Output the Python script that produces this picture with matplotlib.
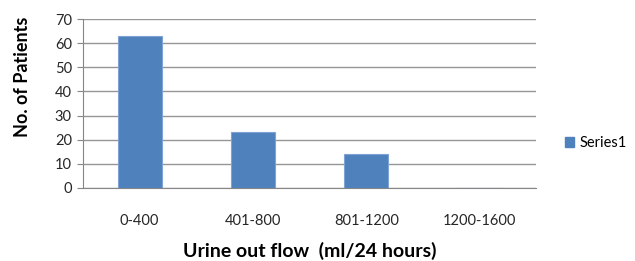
import matplotlib
matplotlib.use("Agg")
import matplotlib.pyplot as plt
from matplotlib.patches import Patch

categories = ["0-400", "401-800", "801-1200", "1200-1600"]
values = [63, 23, 14, 0]
series_name = "Series1"
yticks = [0, 10, 20, 30, 40, 50, 60, 70]

plt.rcParams['font.family'] = ['Lato', 'DejaVu Sans']

fig = plt.figure(figsize=(6.35, 2.61), dpi=100)
ax = fig.add_axes([0.1307, 0.2797, 0.8443 - 0.1307, 0.927 - 0.2797])

x = range(len(categories))
ax.bar(x, values, width=0.39, color="#4F81BD", edgecolor="#7FA3D4", linewidth=0.8, zorder=3)

ax.set_xlim(-0.5, len(categories) - 0.5)
ax.set_ylim(0, 70)
ax.set_yticks(yticks)
ax.set_xticks(list(x))
ax.set_xticklabels(categories, fontsize=10.5, color="#262626")
ax.tick_params(axis='x', length=0, pad=19)
ax.tick_params(axis='y', length=4, color="#868686", labelsize=10.5, labelcolor="#262626", pad=4)
ax.yaxis.grid(True, color="#969696", linewidth=1.0, zorder=0)

for s in ["top", "right"]:
    ax.spines[s].set_visible(False)
ax.spines["left"].set_color("#868686")
ax.spines["bottom"].set_color("#868686")

ax.set_ylabel("No. of Patients", fontsize=13, fontweight="bold", labelpad=17, y=0.657)
ax.set_xlabel("Urine out flow  (ml/24 hours)", fontsize=14, fontweight="bold", labelpad=10)

handles = [Patch(facecolor="#4F81BD", edgecolor="#4F81BD")]
fig.legend(handles, [series_name], loc="center left", bbox_to_anchor=(0.8896, 0.452),
           frameon=False, fontsize=10.5, handlelength=0.6, handleheight=0.7, handletextpad=0.4,
           borderpad=0, borderaxespad=0)

fig.savefig("out.png", dpi=100)
